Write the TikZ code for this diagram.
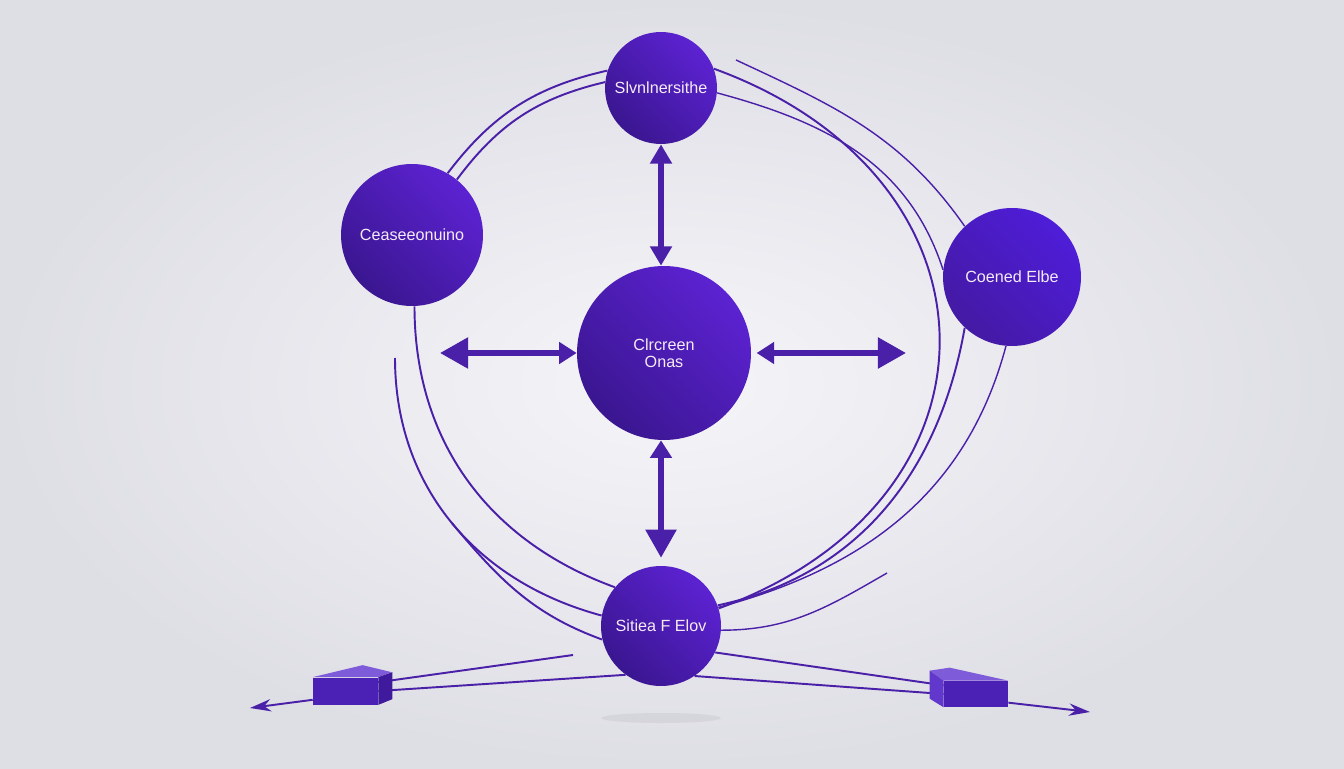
\documentclass[tikz,border=0pt]{standalone}
\usepackage{fontspec}
\setsansfont{Liberation Sans}
\usetikzlibrary{arrows.meta}

\definecolor{bgLight}{HTML}{F5F5F9}
\definecolor{bgDark}{HTML}{DEDEE5}
\definecolor{hubDark}{HTML}{3A1690}
\definecolor{hubLight}{HTML}{5C22D2}
\definecolor{wire}{HTML}{4A20A8}
\definecolor{boxTop}{HTML}{7E5BD9}
\definecolor{boxFront}{HTML}{4A20B5}
\definecolor{boxSide}{HTML}{3F1A9C}
\definecolor{boxLeft}{HTML}{6238CC}

\begin{document}
\begin{tikzpicture}[x=0.02cm, y=0.02cm,
                    hub/.style={circle, top color=hubDark, bottom color=hubLight, shading angle=135, inner sep=0pt,
                                text=white!92!violet, align=center, font=\sffamily\fontsize{9.2}{9.8}\selectfont},
                    box_front/.style={rectangle, fill=boxFront, inner sep=0pt, minimum width=1.3cm, minimum height=0.54cm},
                    flow_sb/.style={{Triangle[length=10pt,width=12pt]}-{Triangle[length=16pt,width=17pt]}, line width=3.4pt, draw=wire},
                    flow_mm/.style={{Triangle[length=11pt,width=12pt]}-{Triangle[length=11pt,width=12pt]}, line width=3.4pt, draw=wire},
                    link/.style={draw=wire, line width=1.1pt},
                    link_thin/.style={draw=wire, line width=0.8pt},
                    out_arrow/.style={-{Stealth[length=12pt,width=7pt]}, draw=wire, line width=1.1pt}]

    \shade[inner color=bgLight, outer color=bgDark] (0,0) rectangle (1344,768);
    \fill[black, opacity=0.05] (661,50) ellipse [x radius=60, y radius=5];

    \node[hub, minimum size=2.24cm] (ct) at (661,680) {Slvnlnersithe};
    \node[hub, minimum size=2.84cm] (cl) at (412,533) {Ceaseeonuino};
    \node[hub, minimum size=2.76cm, top color=hubDark!70!hubLight, bottom color=hubLight!85!blue, shading angle=135] (cr) at (1012,491) {Coened Elbe};
    \node[hub, minimum size=3.48cm] (cm) at (664,415) {Clrcreen\\Onas};
    \node[hub, minimum size=2.4cm] (cb) at (661,142) {Sitiea F Elov};

    \node[box_front] (lbox) at (345.5,77) {};
    \node[box_front, minimum width=1.28cm, minimum height=0.52cm] (rbox) at (976,74) {};

    \coordinate (wl) at (440,415);
    \coordinate (wr) at (906,415);
    \coordinate (cfree) at (736,708);
    \coordinate (ffree) at (887,195);
    \coordinate (hfree) at (395,410);
    \coordinate (lfree) at (573,113);
    \coordinate (lout) at (250,60);
    \coordinate (rout) at (1090,56);

    \draw[flow_mm] (ct.south) -- (ct.south |- cm.north);
    \draw[flow_sb, shorten >=4.5pt] (cm.south -| cb.north) -- (cb.north);
    \draw[flow_sb] (cm.west) -- (wl);
    \draw[flow_sb, shorten <=3pt] (cm.east) -- (wr);

    \draw[link] (cl.60) to[bend left=20] (ct.162);
    \draw[link] (cl.51) to[bend left=20] (ct.174);

    \draw[link] (ct.20) to[out=-20, in=20, looseness=1.5] (cb.17);
    \draw[link_thin] (ct.-5) to[out=-15, in=108] (cr.174);
    \draw[link_thin] (cfree) to[out=-25, in=125] (cr.133);
    \draw[link] (cr.227) to[out=-100, in=12] (cb.20);
    \draw[link_thin] (cr.265) to[out=-105, in=15] (cb.18);
    \draw[link_thin] (ffree) to[out=-150, in=0] (cb.-4);

    \draw[link] (cl.-88) to[out=-90, in=160] (cb.140);
    \draw[link] (hfree) to[out=-90, in=165] coordinate[pos=0.5] (hsplit) (cb.170);
    \draw[link] (hsplit) to[out=-50, in=160] (cb.-167);

    \draw[link] (lbox.15) -- (lfree);
    \draw[link] (lbox.east) -- (cb.-126);
    \draw[out_arrow] (lbox.195) -- (lout);
    \draw[link] (cb.-26) -- (rbox.165);
    \draw[link] (cb.-56) -- (rbox.west);
    \draw[out_arrow] (rbox.-15) -- (rout);

    \fill[boxTop] (lbox.north west) -- ++(50,12) -- ++(29,-7) -- (lbox.north east) -- cycle;
    \fill[boxSide] (lbox.north east) -- ++(14,5) -- ++(0,-27) -- (lbox.south east) -- cycle;
    \fill[boxTop] (rbox.north west) -- ++(-14,10) -- ++(20,3) -- (rbox.north east) -- cycle;
    \fill[boxLeft] (rbox.north west) -- ++(-14,10) -- ++(0,-28) -- (rbox.south west) -- cycle;
\end{tikzpicture}
\end{document}
